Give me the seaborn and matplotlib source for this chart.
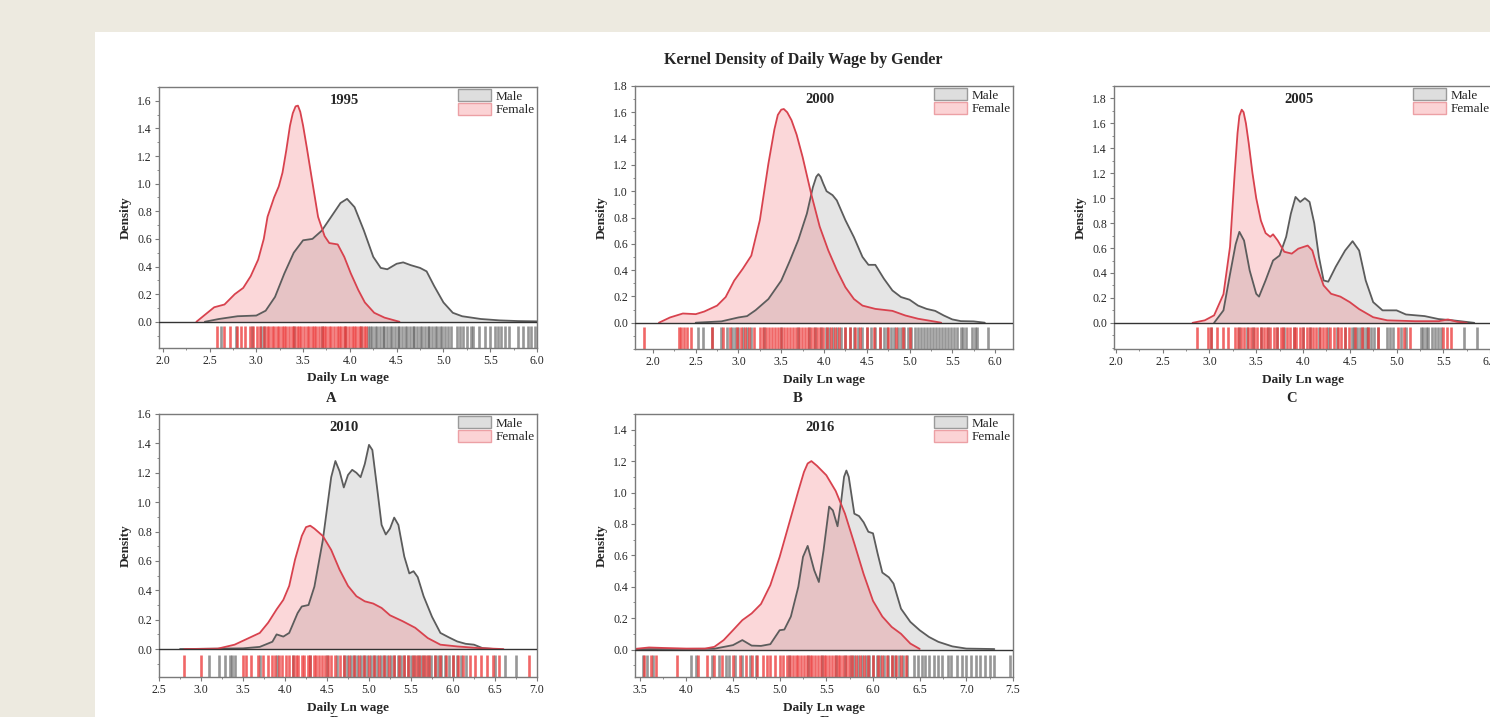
import seaborn as sns
import matplotlib.pyplot as plt
import matplotlib.ticker as ticker
from matplotlib.patches import Rectangle, Patch

# ---- density curves ----
female_x_1995 = [2.36, 2.45, 2.55, 2.66, 2.77, 2.86, 2.94, 3.02, 3.08, 3.12, 3.19, 3.24, 3.28, 3.32, 3.36, 3.39, 3.42, 3.445, 3.47, 3.5, 3.54, 3.59, 3.66, 3.73, 3.78, 3.87, 3.94, 4.01, 4.09, 4.16, 4.26, 4.37, 4.53]
female_y_1995 = [0.0, 0.05, 0.105, 0.125, 0.2, 0.245, 0.33, 0.45, 0.6, 0.76, 0.9, 0.98, 1.08, 1.24, 1.42, 1.51, 1.56, 1.565, 1.52, 1.42, 1.26, 1.05, 0.76, 0.62, 0.57, 0.56, 0.47, 0.35, 0.23, 0.14, 0.065, 0.03, 0.0]
male_x_1995 = [2.45, 2.6, 2.8, 3.0, 3.1, 3.2, 3.3, 3.4, 3.5, 3.6, 3.7, 3.8, 3.9, 3.97, 4.05, 4.15, 4.25, 4.33, 4.4, 4.5, 4.57, 4.65, 4.75, 4.82, 4.9, 5.0, 5.1, 5.2, 5.4, 5.6, 5.8, 6.0]
male_y_1995 = [0.0, 0.02, 0.04, 0.045, 0.08, 0.18, 0.35, 0.5, 0.59, 0.6, 0.66, 0.76, 0.86, 0.89, 0.83, 0.66, 0.47, 0.39, 0.38, 0.42, 0.43, 0.41, 0.39, 0.365, 0.26, 0.14, 0.065, 0.04, 0.02, 0.01, 0.005, 0.003]

female_x_2000 = [2.07, 2.2, 2.35, 2.5, 2.6, 2.75, 2.85, 2.95, 3.05, 3.15, 3.25, 3.35, 3.42, 3.46, 3.5, 3.53, 3.57, 3.62, 3.68, 3.75, 3.85, 3.95, 4.05, 4.15, 4.25, 4.35, 4.45, 4.6, 4.8, 4.95, 5.1, 5.3, 5.37]
female_y_2000 = [0.0, 0.04, 0.07, 0.065, 0.085, 0.13, 0.195, 0.32, 0.41, 0.51, 0.78, 1.21, 1.47, 1.58, 1.62, 1.625, 1.6, 1.54, 1.43, 1.26, 0.98, 0.73, 0.55, 0.4, 0.27, 0.18, 0.13, 0.105, 0.09, 0.055, 0.03, 0.008, 0.0]
male_x_2000 = [2.5, 2.8, 3.0, 3.1, 3.2, 3.35, 3.5, 3.6, 3.7, 3.8, 3.87, 3.91, 3.935, 3.96, 3.99, 4.03, 4.1, 4.15, 4.25, 4.35, 4.45, 4.52, 4.6, 4.7, 4.8, 4.9, 5.0, 5.1, 5.2, 5.3, 5.4, 5.5, 5.6, 5.75, 5.88]
male_y_2000 = [0.0, 0.01, 0.04, 0.05, 0.095, 0.18, 0.32, 0.47, 0.63, 0.83, 1.03, 1.11, 1.13, 1.11, 1.06, 1.0, 0.97, 0.93, 0.78, 0.65, 0.5, 0.44, 0.44, 0.335, 0.245, 0.195, 0.175, 0.13, 0.105, 0.09, 0.055, 0.025, 0.012, 0.01, 0.0]

female_x_2005 = [2.82, 2.95, 3.05, 3.15, 3.22, 3.27, 3.3, 3.32, 3.345, 3.365, 3.39, 3.42, 3.46, 3.5, 3.55, 3.6, 3.65, 3.68, 3.73, 3.8, 3.88, 3.95, 4.05, 4.1, 4.15, 4.22, 4.3, 4.4, 4.5, 4.6, 4.75, 4.9, 5.2, 5.45, 5.55, 5.65, 5.75]
female_y_2005 = [0.0, 0.02, 0.06, 0.23, 0.61, 1.2, 1.52, 1.66, 1.71, 1.69, 1.6, 1.44, 1.2, 1.0, 0.82, 0.72, 0.69, 0.71, 0.66, 0.57, 0.555, 0.595, 0.62, 0.58, 0.45, 0.3, 0.233, 0.21, 0.166, 0.11, 0.045, 0.02, 0.013, 0.013, 0.027, 0.008, 0.0]
male_x_2005 = [3.05, 3.15, 3.22, 3.28, 3.32, 3.37, 3.43, 3.5, 3.53, 3.6, 3.68, 3.75, 3.82, 3.87, 3.92, 3.97, 4.02, 4.07, 4.12, 4.17, 4.22, 4.27, 4.35, 4.45, 4.53, 4.6, 4.67, 4.75, 4.85, 5.0, 5.1, 5.3, 5.45, 5.6, 5.83]
male_y_2005 = [0.0, 0.1, 0.39, 0.63, 0.73, 0.66, 0.42, 0.233, 0.21, 0.34, 0.5, 0.54, 0.69, 0.875, 1.01, 0.97, 1.0, 0.97, 0.8, 0.53, 0.34, 0.33, 0.45, 0.58, 0.655, 0.58, 0.34, 0.166, 0.1, 0.1, 0.067, 0.054, 0.03, 0.02, 0.0]

female_x_2010 = [2.8, 3.2, 3.4, 3.55, 3.7, 3.8, 3.9, 3.98, 4.05, 4.12, 4.2, 4.25, 4.3, 4.35, 4.45, 4.55, 4.65, 4.75, 4.85, 4.95, 5.05, 5.15, 5.25, 5.4, 5.55, 5.7, 5.85, 6.05, 6.3, 6.6]
female_y_2010 = [0.0, 0.003, 0.03, 0.07, 0.11, 0.18, 0.27, 0.335, 0.43, 0.61, 0.77, 0.83, 0.84, 0.82, 0.77, 0.675, 0.54, 0.43, 0.36, 0.325, 0.31, 0.28, 0.23, 0.19, 0.145, 0.075, 0.03, 0.018, 0.007, 0.0]
male_x_2010 = [2.75, 3.5, 3.7, 3.85, 3.9, 3.98, 4.05, 4.15, 4.2, 4.28, 4.35, 4.45, 4.55, 4.6, 4.65, 4.7, 4.75, 4.8, 4.85, 4.9, 4.95, 5.0, 5.04, 5.1, 5.15, 5.2, 5.25, 5.3, 5.35, 5.42, 5.48, 5.53, 5.58, 5.65, 5.75, 5.85, 5.95, 6.05, 6.15, 6.25, 6.35, 6.5]
male_y_2010 = [0.0, 0.005, 0.015, 0.05, 0.1, 0.085, 0.11, 0.245, 0.29, 0.3, 0.425, 0.74, 1.17, 1.28, 1.21, 1.1, 1.185, 1.22, 1.2, 1.17, 1.26, 1.39, 1.355, 1.08, 0.845, 0.78, 0.82, 0.895, 0.845, 0.63, 0.515, 0.53, 0.49, 0.36, 0.22, 0.11, 0.08, 0.052, 0.036, 0.03, 0.007, 0.0]

female_x_2016 = [3.45, 3.6, 3.75, 4.0, 4.2, 4.3, 4.4, 4.5, 4.6, 4.7, 4.8, 4.9, 5.0, 5.1, 5.2, 5.26, 5.3, 5.34, 5.4, 5.5, 5.6, 5.7, 5.8, 5.9, 6.0, 6.1, 6.2, 6.3, 6.4, 6.5]
female_y_2016 = [0.004, 0.013, 0.01, 0.006, 0.006, 0.017, 0.06, 0.123, 0.187, 0.23, 0.29, 0.41, 0.59, 0.8, 1.01, 1.13, 1.185, 1.2, 1.17, 1.11, 1.01, 0.865, 0.675, 0.48, 0.31, 0.21, 0.144, 0.1, 0.038, 0.004]
male_x_2016 = [3.45, 4.3, 4.5, 4.6, 4.7, 4.8, 4.9, 5.0, 5.05, 5.12, 5.2, 5.25, 5.3, 5.37, 5.42, 5.47, 5.53, 5.57, 5.62, 5.66, 5.69, 5.715, 5.74, 5.8, 5.85, 5.9, 5.95, 6.0, 6.05, 6.1, 6.17, 6.22, 6.3, 6.4, 6.5, 6.6, 6.7, 6.85, 7.0, 7.3]
male_y_2016 = [0.002, 0.005, 0.028, 0.06, 0.025, 0.023, 0.034, 0.123, 0.127, 0.21, 0.4, 0.59, 0.66, 0.505, 0.43, 0.63, 0.91, 0.886, 0.785, 0.95, 1.1, 1.14, 1.1, 0.865, 0.85, 0.81, 0.75, 0.74, 0.61, 0.49, 0.46, 0.42, 0.26, 0.176, 0.123, 0.08, 0.049, 0.02, 0.006, 0.003]

female_rug_1995 = [2.58, 2.66, 2.72, 2.79, 2.84, 2.88, 2.93, 2.97, 3.01, 3.04, 3.08, 3.11, 3.14, 3.17, 3.19, 3.22, 3.24, 3.27, 3.3, 3.32, 3.35, 3.38, 3.4, 3.43, 3.46, 3.48, 3.51, 3.54, 3.56, 3.59, 3.62, 3.64, 3.67, 3.7, 3.72, 3.75, 3.78, 3.8, 3.83, 3.86, 3.88, 3.91, 3.94, 3.96, 3.99, 4.02, 4.04, 4.07, 4.1, 4.12, 4.15, 4.17]
male_rug_1995 = [2.62, 2.78, 2.95, 3.05, 3.08, 3.4, 3.7, 3.95, 4.12, 4.19, 4.21, 4.24, 4.27, 4.29, 4.32, 4.35, 4.37, 4.4, 4.43, 4.45, 4.48, 4.51, 4.53, 4.56, 4.59, 4.61, 4.64, 4.67, 4.69, 4.72, 4.75, 4.77, 4.8, 4.83, 4.85, 4.88, 4.91, 4.93, 4.96, 4.99, 5.02, 5.05, 5.08, 5.14, 5.18, 5.21, 5.25, 5.29, 5.32, 5.38, 5.44, 5.5, 5.55, 5.58, 5.62, 5.66, 5.7, 5.8, 5.85, 5.9, 5.94, 5.98]
female_rug_2000 = [1.89, 2.3, 2.33, 2.36, 2.4, 2.44, 2.69, 2.82, 2.9, 2.98, 3.03, 3.08, 3.12, 3.18, 3.25, 3.29, 3.32, 3.36, 3.39, 3.43, 3.46, 3.5, 3.53, 3.57, 3.6, 3.64, 3.67, 3.71, 3.74, 3.78, 3.81, 3.85, 3.88, 3.92, 3.95, 3.99, 4.03, 4.08, 4.13, 4.18, 4.24, 4.3, 4.36, 4.42, 4.5, 4.58, 4.66, 4.75, 4.84, 4.92, 5.0]
male_rug_2000 = [2.53, 2.59, 2.69, 2.8, 2.86, 2.92, 2.96, 3.0, 3.05, 3.1, 3.15, 3.3, 3.5, 3.7, 3.82, 3.9, 3.96, 4.02, 4.06, 4.1, 4.15, 4.2, 4.25, 4.3, 4.35, 4.4, 4.45, 4.5, 4.55, 4.6, 4.65, 4.7, 4.74, 4.78, 4.82, 4.86, 4.9, 4.94, 4.98, 5.02, 5.06, 5.1, 5.13, 5.17, 5.2, 5.24, 5.27, 5.31, 5.34, 5.38, 5.41, 5.45, 5.48, 5.52, 5.56, 5.6, 5.63, 5.66, 5.73, 5.77, 5.79, 5.92]
female_rug_2005 = [2.87, 2.98, 3.02, 3.08, 3.14, 3.2, 3.27, 3.3, 3.34, 3.37, 3.41, 3.44, 3.48, 3.51, 3.55, 3.58, 3.62, 3.65, 3.69, 3.72, 3.76, 3.79, 3.83, 3.86, 3.9, 3.93, 3.97, 4.0, 4.04, 4.07, 4.11, 4.14, 4.18, 4.21, 4.25, 4.29, 4.33, 4.37, 4.41, 4.45, 4.49, 4.56, 4.63, 4.7, 4.8, 5.02, 5.08, 5.14, 5.5, 5.54, 5.58]
male_rug_2005 = [3.02, 3.32, 3.4, 3.47, 3.55, 3.63, 3.72, 3.8, 3.9, 4.0, 4.08, 4.17, 4.27, 4.36, 4.45, 4.52, 4.55, 4.58, 4.61, 4.64, 4.67, 4.7, 4.73, 4.76, 4.8, 4.9, 4.93, 4.96, 5.05, 5.1, 5.26, 5.28, 5.31, 5.34, 5.38, 5.41, 5.44, 5.47, 5.72, 5.86]
female_rug_2010 = [2.8, 3.0, 3.5, 3.54, 3.6, 3.68, 3.74, 3.8, 3.84, 3.88, 3.93, 3.97, 4.01, 4.05, 4.09, 4.13, 4.16, 4.2, 4.23, 4.27, 4.3, 4.34, 4.37, 4.41, 4.44, 4.48, 4.51, 4.55, 4.6, 4.65, 4.7, 4.76, 4.82, 4.88, 4.94, 5.0, 5.06, 5.12, 5.18, 5.24, 5.3, 5.36, 5.42, 5.47, 5.52, 5.56, 5.6, 5.64, 5.68, 5.72, 5.78, 5.85, 5.92, 6.0, 6.06, 6.12, 6.2, 6.26, 6.33, 6.4, 6.48, 6.55, 6.9]
male_rug_2010 = [3.1, 3.22, 3.28, 3.34, 3.37, 3.4, 3.7, 3.9, 4.1, 4.3, 4.5, 4.62, 4.7, 4.74, 4.78, 4.82, 4.86, 4.9, 4.94, 4.98, 5.02, 5.06, 5.1, 5.14, 5.18, 5.22, 5.26, 5.3, 5.34, 5.38, 5.42, 5.46, 5.5, 5.54, 5.58, 5.62, 5.66, 5.7, 5.74, 5.78, 5.82, 5.86, 5.9, 5.95, 6.0, 6.05, 6.1, 6.15, 6.5, 6.62, 6.75]
female_rug_2016 = [3.55, 3.62, 3.68, 3.9, 4.12, 4.22, 4.3, 4.38, 4.5, 4.58, 4.64, 4.7, 4.76, 4.82, 4.86, 4.9, 4.95, 5.0, 5.04, 5.08, 5.11, 5.14, 5.17, 5.2, 5.23, 5.26, 5.29, 5.32, 5.35, 5.38, 5.41, 5.44, 5.47, 5.5, 5.53, 5.56, 5.59, 5.62, 5.65, 5.68, 5.71, 5.74, 5.78, 5.82, 5.86, 5.9, 5.95, 6.0, 6.05, 6.1, 6.15, 6.2, 6.25, 6.3, 6.35]
male_rug_2016 = [3.54, 3.58, 3.64, 4.05, 4.1, 4.28, 4.35, 4.42, 4.46, 4.52, 4.6, 4.68, 4.75, 5.1, 5.3, 5.45, 5.6, 5.7, 5.76, 5.8, 5.84, 5.88, 5.92, 5.96, 6.0, 6.04, 6.08, 6.12, 6.16, 6.2, 6.24, 6.28, 6.32, 6.36, 6.44, 6.48, 6.52, 6.56, 6.6, 6.65, 6.7, 6.74, 6.8, 6.84, 6.9, 6.95, 7.0, 7.05, 7.1, 7.15, 7.2, 7.25, 7.3, 7.47]

years = ['1995', '2000', '2005', '2010', '2016']
panel_letters = ['A', 'B', 'C', 'D', 'E']
x_limits = [(1.96, 6.0), (1.79, 6.21), (1.98, 6.02), (2.5, 7.0), (3.45, 7.5)]
y_limits = [(-0.19, 1.70), (-0.2, 1.8), (-0.21, 1.9), (-0.19, 1.6), (-0.175, 1.5)]
x_ticks = [[2.0, 2.5, 3.0, 3.5, 4.0, 4.5, 5.0, 5.5, 6.0],
           [2.0, 2.5, 3.0, 3.5, 4.0, 4.5, 5.0, 5.5, 6.0],
           [2.0, 2.5, 3.0, 3.5, 4.0, 4.5, 5.0, 5.5, 6.0],
           [2.5, 3.0, 3.5, 4.0, 4.5, 5.0, 5.5, 6.0, 6.5, 7.0],
           [3.5, 4.0, 4.5, 5.0, 5.5, 6.0, 6.5, 7.0, 7.5]]
y_ticks = [[0.0, 0.2, 0.4, 0.6, 0.8, 1.0, 1.2, 1.4, 1.6],
           [0.0, 0.2, 0.4, 0.6, 0.8, 1.0, 1.2, 1.4, 1.6, 1.8],
           [0.0, 0.2, 0.4, 0.6, 0.8, 1.0, 1.2, 1.4, 1.6, 1.8],
           [0.0, 0.2, 0.4, 0.6, 0.8, 1.0, 1.2, 1.4, 1.6],
           [0.0, 0.2, 0.4, 0.6, 0.8, 1.0, 1.2, 1.4]]

curves = [
    (male_x_1995, male_y_1995, female_x_1995, female_y_1995, male_rug_1995, female_rug_1995),
    (male_x_2000, male_y_2000, female_x_2000, female_y_2000, male_rug_2000, female_rug_2000),
    (male_x_2005, male_y_2005, female_x_2005, female_y_2005, male_rug_2005, female_rug_2005),
    (male_x_2010, male_y_2010, female_x_2010, female_y_2010, male_rug_2010, female_rug_2010),
    (male_x_2016, male_y_2016, female_x_2016, female_y_2016, male_rug_2016, female_rug_2016),
]

sns.set_style('ticks')
plt.rcParams['font.family'] = ['Liberation Serif', 'DejaVu Serif']

W, H = 1490, 717
fig = plt.figure(figsize=(W / 100, H / 100), dpi=100)
fig.patch.set_facecolor('#EDEAE0')
fig.patches.append(Rectangle((95 / W, 0), 1, 1 - 32 / H, transform=fig.transFigure,
                             facecolor='white', edgecolor='none', zorder=-10))

# axes boxes in pixels: left, top, right, bottom
boxes = [(159, 87, 537, 348), (635, 86, 1013, 349), (1114, 86, 1492, 349),
         (159, 414, 537, 677), (635, 414, 1013, 677)]

male_line, male_fill = '#5c5c5c', '#8a8a8a'
female_line, female_fill = '#d8424e', '#ee4b55'
spine_col = '#7a7a7a'

for i, (l, t, r, b) in enumerate(boxes):
    ax = fig.add_axes([l / W, 1 - b / H, (r - l) / W, (b - t) / H])
    ax.set_zorder(2)
    mx, my, fx, fy, mrug, frug = curves[i]

    sns.rugplot(x=mrug, ax=ax, height=0.085, color='#5f5f5f', alpha=0.65,
                linewidth=1.9, expand_margins=False)
    sns.rugplot(x=frug, ax=ax, height=0.085, color='#ec3434', alpha=0.75,
                linewidth=1.9, expand_margins=False)

    ax.fill_between(mx, my, 0, color=male_fill, alpha=0.22, lw=0)
    sns.lineplot(x=mx, y=my, ax=ax, color=male_line, lw=1.3)
    ax.fill_between(fx, fy, 0, color=female_fill, alpha=0.22, lw=0)
    sns.lineplot(x=fx, y=fy, ax=ax, color=female_line, lw=1.3)

    ax.axhline(0, color='#333333', lw=1.0, zorder=3)

    ax.set_xlim(*x_limits[i])
    ax.set_ylim(*y_limits[i])
    ax.set_xticks(x_ticks[i])
    ax.set_yticks(y_ticks[i])
    ax.xaxis.set_major_formatter(ticker.FormatStrFormatter('%.1f'))
    ax.yaxis.set_major_formatter(ticker.FormatStrFormatter('%.1f'))
    ax.xaxis.set_minor_locator(ticker.MultipleLocator(0.25))
    ax.yaxis.set_minor_locator(ticker.MultipleLocator(0.1))
    ax.tick_params(which='major', length=3, width=0.8, color=spine_col, labelsize=8.5, pad=2)
    ax.tick_params(which='minor', length=1.6, width=0.6, color=spine_col)

    for s in ax.spines.values():
        s.set_color(spine_col)
        s.set_linewidth(1.0)

    ax.set_xlabel('Daily Ln wage', fontsize=9.5, fontweight='bold', labelpad=4)
    ax.set_ylabel('Density', fontsize=9.5, fontweight='bold', labelpad=4)
    ax.text(0.49, 0.975, years[i], transform=ax.transAxes, ha='center', va='top',
            fontsize=10.5, fontweight='bold')

    handles = [Patch(facecolor='#dedede', edgecolor='#9a9a9a', label='Male'),
               Patch(facecolor='#fbd3d5', edgecolor='#eca0a5', label='Female')]
    ax.legend(handles=handles, loc='upper right', frameon=False, fontsize=9.5,
              handlelength=2.5, handleheight=1.05, handletextpad=0.35,
              labelspacing=0.0, borderaxespad=0.05, borderpad=0.1)

fig.text(803 / W, 1 - 60 / H, 'Kernel Density of Daily Wage by Gender',
         ha='center', va='center', fontsize=11.5, fontweight='bold')

letter_pos = [(331, 398), (798, 398), (1292, 398), (335, 722), (825, 722)]
for letter, (px, py) in zip(panel_letters, letter_pos):
    fig.text(px / W, 1 - py / H, letter, ha='center', va='center',
             fontsize=10.5, fontweight='bold')

fig.savefig('out.png', dpi=100)
